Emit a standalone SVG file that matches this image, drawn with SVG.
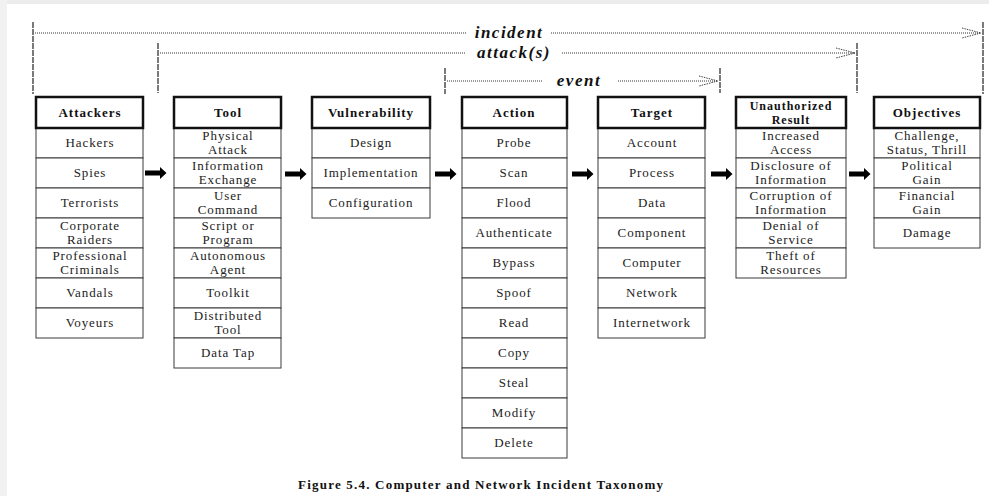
<svg xmlns="http://www.w3.org/2000/svg" width="989" height="496" viewBox="0 0 989 496">
  <style>
    .hdr { fill: #fff; stroke: #111; stroke-width: 2.5; }
    .row { fill: #fff; stroke: #3a3a3a; stroke-width: 1; }
    .ht { font-family: "Liberation Serif", "DejaVu Serif", serif; font-weight: bold; font-size: 13px; letter-spacing: 1px; fill: #111; text-anchor: middle; }
    .ht2 { font-size: 12px; }
    .it { font-family: "Liberation Serif", "DejaVu Serif", serif; font-size: 13px; letter-spacing: 0.9px; fill: #222; text-anchor: middle; }
    .scope { font-family: "Liberation Serif", "DejaVu Serif", serif; font-weight: bold; font-style: italic; font-size: 17px; letter-spacing: 1.5px; fill: #111; text-anchor: middle; }
    .dot { fill: none; stroke: #333; stroke-width: 1; stroke-dasharray: 1 1; }
    .tick { fill: none; stroke: #222; stroke-width: 1.2; stroke-dasharray: 6 1; }
    .chev { fill: none; stroke: #444; stroke-width: 1; stroke-dasharray: 1.5 1; }
    .cap { font-family: "Liberation Serif", "DejaVu Serif", serif; font-weight: bold; font-size: 13px; fill: #111; }
  </style>
  <defs>
    <path id="blockArrow" d="M0,-2.6 H15 V-6 L21.5,0 L15,6 V2.6 H0 Z" fill="#000"/>
  </defs>

  <!-- page background with soft grey frame -->
  <rect x="0" y="0" width="989" height="496" fill="#ffffff"/>
  <rect x="0" y="0" width="989" height="4" fill="#ececec"/>
  <rect x="0" y="0" width="7" height="496" fill="#f1f1f1"/>

  <!-- scope brackets: incident / attack(s) / event -->
  <g id="scopes">
    <line class="tick" x1="33" y1="22" x2="33" y2="94"/>
    <line class="tick" x1="983" y1="22" x2="983" y2="94"/>
    <line class="dot" x1="35" y1="33" x2="466" y2="33"/>
    <line class="dot" x1="551" y1="33" x2="981" y2="33"/>
    <path class="chev" d="M962,28 L981,33 L962,38"/>
    <text class="scope" x="509" y="38">incident</text>

    <line class="tick" x1="158" y1="43" x2="158" y2="93"/>
    <line class="tick" x1="857" y1="43" x2="857" y2="93"/>
    <line class="dot" x1="160" y1="53" x2="465" y2="53"/>
    <line class="dot" x1="562" y1="53" x2="855" y2="53"/>
    <path class="chev" d="M836,48 L855,53 L836,58"/>
    <text class="scope" x="514" y="58">attack(s)</text>

    <line class="tick" x1="445" y1="68" x2="445" y2="94"/>
    <line class="tick" x1="720" y1="68" x2="720" y2="93"/>
    <line class="dot" x1="447" y1="81" x2="542" y2="81"/>
    <line class="dot" x1="618" y1="81" x2="718" y2="81"/>
    <path class="chev" d="M699,76 L718,81 L699,86"/>
    <text class="scope" x="579" y="86">event</text>
  </g>

  <!-- Attackers -->
  <g id="attackers">
    <rect class="row" x="36" y="128" width="107" height="30"/>
    <rect class="row" x="36" y="158" width="107" height="30"/>
    <rect class="row" x="36" y="188" width="107" height="30"/>
    <rect class="row" x="36" y="218" width="107" height="30"/>
    <rect class="row" x="36" y="248" width="107" height="30"/>
    <rect class="row" x="36" y="278" width="107" height="30"/>
    <rect class="row" x="36" y="308" width="107" height="30"/>
    <rect class="hdr" x="36" y="97" width="107" height="31"/>
    <text class="ht" x="90" y="117">Attackers</text>
    <text class="it" x="90" y="147">Hackers</text>
    <text class="it" x="90" y="177">Spies</text>
    <text class="it" x="90" y="207">Terrorists</text>
    <text class="it" x="90" y="230">Corporate</text>
    <text class="it" x="90" y="244">Raiders</text>
    <text class="it" x="90" y="260">Professional</text>
    <text class="it" x="90" y="274">Criminals</text>
    <text class="it" x="90" y="297">Vandals</text>
    <text class="it" x="90" y="327">Voyeurs</text>
  </g>

  <!-- Tool -->
  <g id="tool">
    <rect class="row" x="174" y="128" width="107" height="30"/>
    <rect class="row" x="174" y="158" width="107" height="30"/>
    <rect class="row" x="174" y="188" width="107" height="30"/>
    <rect class="row" x="174" y="218" width="107" height="30"/>
    <rect class="row" x="174" y="248" width="107" height="30"/>
    <rect class="row" x="174" y="278" width="107" height="30"/>
    <rect class="row" x="174" y="308" width="107" height="30"/>
    <rect class="row" x="174" y="338" width="107" height="30"/>
    <rect class="hdr" x="174" y="97" width="107" height="31"/>
    <text class="ht" x="228" y="117">Tool</text>
    <text class="it" x="228" y="140">Physical</text>
    <text class="it" x="228" y="154">Attack</text>
    <text class="it" x="228" y="170">Information</text>
    <text class="it" x="228" y="184">Exchange</text>
    <text class="it" x="228" y="200">User</text>
    <text class="it" x="228" y="214">Command</text>
    <text class="it" x="228" y="230">Script or</text>
    <text class="it" x="228" y="244">Program</text>
    <text class="it" x="228" y="260">Autonomous</text>
    <text class="it" x="228" y="274">Agent</text>
    <text class="it" x="228" y="297">Toolkit</text>
    <text class="it" x="228" y="320">Distributed</text>
    <text class="it" x="228" y="334">Tool</text>
    <text class="it" x="228" y="357">Data Tap</text>
  </g>

  <!-- Vulnerability -->
  <g id="vulnerability">
    <rect class="row" x="312" y="128" width="118" height="30"/>
    <rect class="row" x="312" y="158" width="118" height="30"/>
    <rect class="row" x="312" y="188" width="118" height="30"/>
    <rect class="hdr" x="312" y="97" width="118" height="31"/>
    <text class="ht" x="371" y="117">Vulnerability</text>
    <text class="it" x="371" y="147">Design</text>
    <text class="it" x="371" y="177">Implementation</text>
    <text class="it" x="371" y="207">Configuration</text>
  </g>

  <!-- Action -->
  <g id="action">
    <rect class="row" x="462" y="128" width="105" height="30"/>
    <rect class="row" x="462" y="158" width="105" height="30"/>
    <rect class="row" x="462" y="188" width="105" height="30"/>
    <rect class="row" x="462" y="218" width="105" height="30"/>
    <rect class="row" x="462" y="248" width="105" height="30"/>
    <rect class="row" x="462" y="278" width="105" height="30"/>
    <rect class="row" x="462" y="308" width="105" height="30"/>
    <rect class="row" x="462" y="338" width="105" height="30"/>
    <rect class="row" x="462" y="368" width="105" height="30"/>
    <rect class="row" x="462" y="398" width="105" height="30"/>
    <rect class="row" x="462" y="428" width="105" height="30"/>
    <rect class="hdr" x="462" y="97" width="105" height="31"/>
    <text class="ht" x="514" y="117">Action</text>
    <text class="it" x="514" y="147">Probe</text>
    <text class="it" x="514" y="177">Scan</text>
    <text class="it" x="514" y="207">Flood</text>
    <text class="it" x="514" y="237">Authenticate</text>
    <text class="it" x="514" y="267">Bypass</text>
    <text class="it" x="514" y="297">Spoof</text>
    <text class="it" x="514" y="327">Read</text>
    <text class="it" x="514" y="357">Copy</text>
    <text class="it" x="514" y="387">Steal</text>
    <text class="it" x="514" y="417">Modify</text>
    <text class="it" x="514" y="447">Delete</text>
  </g>

  <!-- Target -->
  <g id="target">
    <rect class="row" x="598" y="128" width="107" height="30"/>
    <rect class="row" x="598" y="158" width="107" height="30"/>
    <rect class="row" x="598" y="188" width="107" height="30"/>
    <rect class="row" x="598" y="218" width="107" height="30"/>
    <rect class="row" x="598" y="248" width="107" height="30"/>
    <rect class="row" x="598" y="278" width="107" height="30"/>
    <rect class="row" x="598" y="308" width="107" height="30"/>
    <rect class="hdr" x="598" y="97" width="107" height="31"/>
    <text class="ht" x="652" y="117">Target</text>
    <text class="it" x="652" y="147">Account</text>
    <text class="it" x="652" y="177">Process</text>
    <text class="it" x="652" y="207">Data</text>
    <text class="it" x="652" y="237">Component</text>
    <text class="it" x="652" y="267">Computer</text>
    <text class="it" x="652" y="297">Network</text>
    <text class="it" x="652" y="327">Internetwork</text>
  </g>

  <!-- Unauthorized Result -->
  <g id="unauthorized-result">
    <rect class="row" x="736" y="128" width="110" height="30"/>
    <rect class="row" x="736" y="158" width="110" height="30"/>
    <rect class="row" x="736" y="188" width="110" height="30"/>
    <rect class="row" x="736" y="218" width="110" height="30"/>
    <rect class="row" x="736" y="248" width="110" height="30"/>
    <rect class="hdr" x="736" y="97" width="110" height="31"/>
    <text class="ht ht2" x="791" y="110">Unauthorized</text>
    <text class="ht ht2" x="791" y="124">Result</text>
    <text class="it" x="791" y="140">Increased</text>
    <text class="it" x="791" y="154">Access</text>
    <text class="it" x="791" y="170">Disclosure of</text>
    <text class="it" x="791" y="184">Information</text>
    <text class="it" x="791" y="200">Corruption of</text>
    <text class="it" x="791" y="214">Information</text>
    <text class="it" x="791" y="230">Denial of</text>
    <text class="it" x="791" y="244">Service</text>
    <text class="it" x="791" y="260">Theft of</text>
    <text class="it" x="791" y="274">Resources</text>
  </g>

  <!-- Objectives -->
  <g id="objectives">
    <rect class="row" x="874" y="128" width="106" height="30"/>
    <rect class="row" x="874" y="158" width="106" height="30"/>
    <rect class="row" x="874" y="188" width="106" height="30"/>
    <rect class="row" x="874" y="218" width="106" height="30"/>
    <rect class="hdr" x="874" y="97" width="106" height="31"/>
    <text class="ht" x="927" y="117">Objectives</text>
    <text class="it" x="927" y="140">Challenge,</text>
    <text class="it" x="927" y="154">Status, Thrill</text>
    <text class="it" x="927" y="170">Political</text>
    <text class="it" x="927" y="184">Gain</text>
    <text class="it" x="927" y="200">Financial</text>
    <text class="it" x="927" y="214">Gain</text>
    <text class="it" x="927" y="237">Damage</text>
  </g>

  <!-- flow arrows between stages -->
  <g id="connectors">
    <use href="#blockArrow" x="145" y="173"/>
    <use href="#blockArrow" x="285" y="174"/>
    <use href="#blockArrow" x="435" y="174"/>
    <use href="#blockArrow" x="572" y="174"/>
    <use href="#blockArrow" x="711" y="174"/>
    <use href="#blockArrow" x="849" y="174"/>
  </g>

  <text class="cap" x="298" y="489" textLength="365" lengthAdjust="spacing">Figure 5.4.  Computer and Network Incident Taxonomy</text>
</svg>
